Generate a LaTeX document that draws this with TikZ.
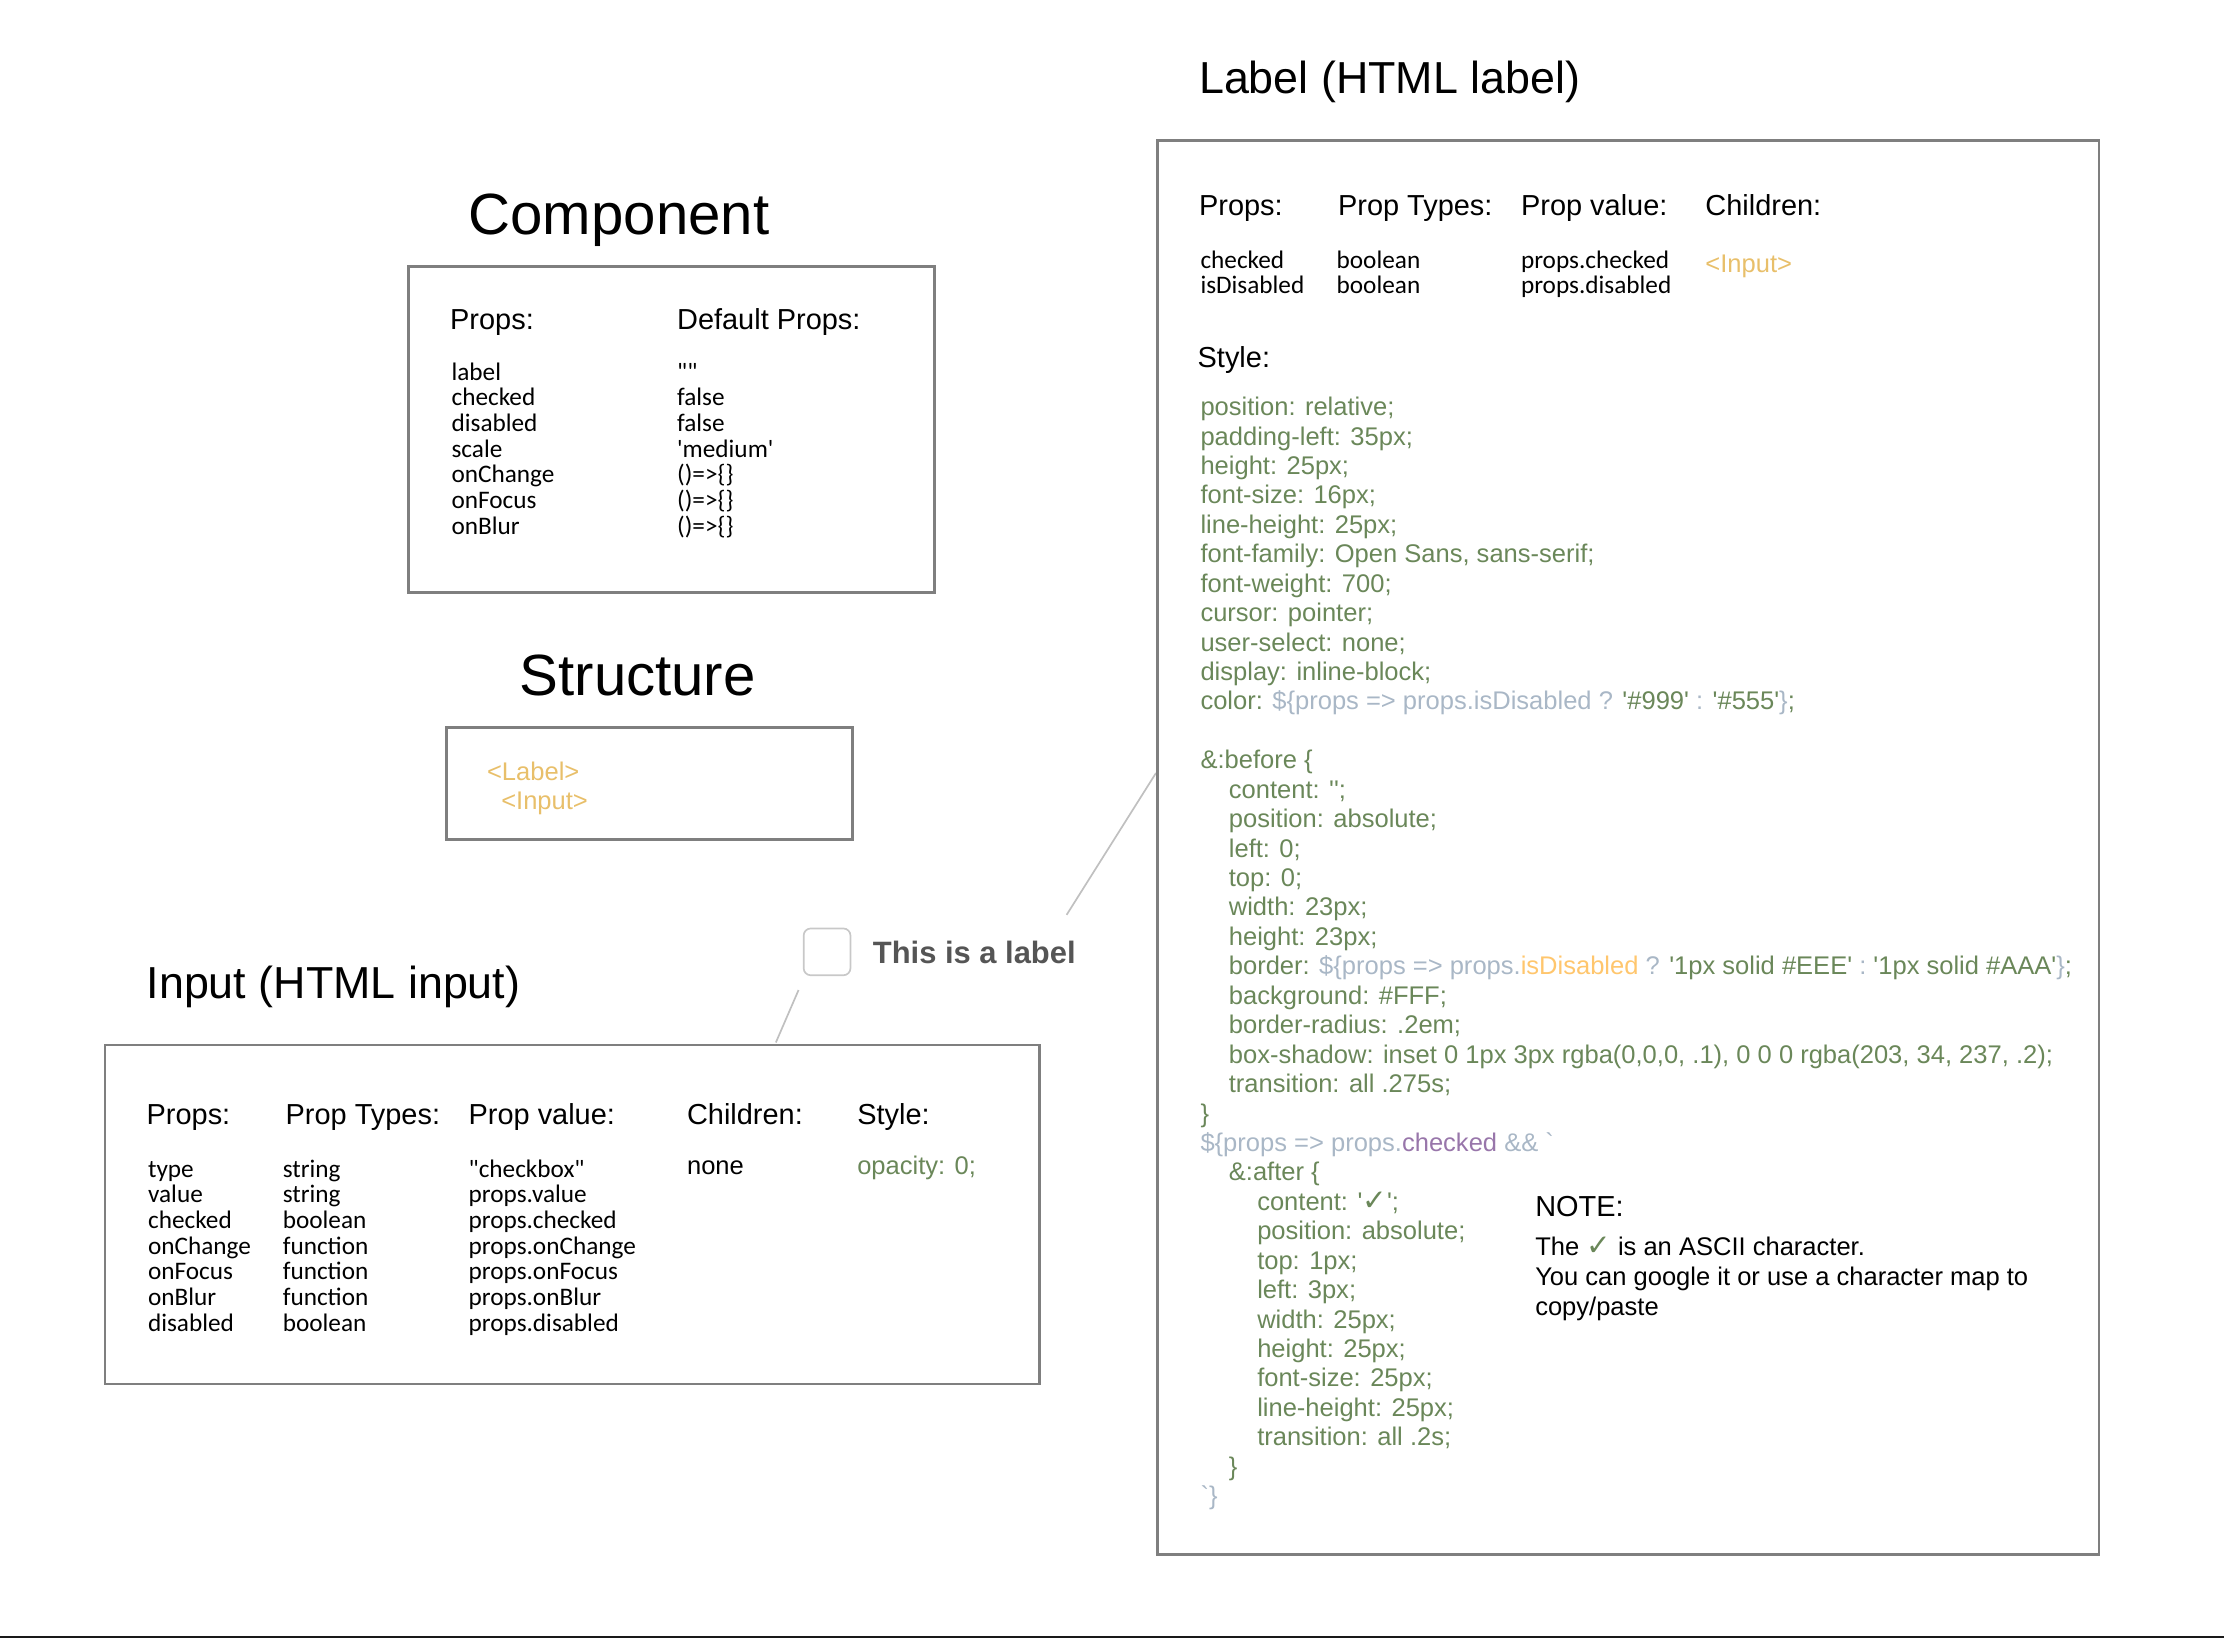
\documentclass[tikz,border=0pt]{standalone}
\usepackage{fontspec}
\setmainfont{Liberation Sans}[Ligatures=TeXOff]
\newfontfamily\calfont{Carlito}[Ligatures=TeXOff]
\newfontfamily\symfont{DejaVu Sans}
\usetikzlibrary{positioning}
\definecolor{boxgray}{HTML}{7F7F7F}
\definecolor{linkgray}{HTML}{C0C0C0}
\definecolor{checkgray}{HTML}{C8C8C8}
\definecolor{labelgray}{HTML}{555555}
\definecolor{codegreen}{HTML}{6A8759}
\definecolor{codegray}{HTML}{A9B7C6}
\definecolor{codeorange}{HTML}{FFC66D}
\definecolor{codepurple}{HTML}{9876AA}
\definecolor{tagorange}{HTML}{E8BF6A}
\newcommand{\cg}[1]{\textcolor{codegray}{#1}}
\newcommand{\co}[1]{\textcolor{codeorange}{#1}}
\newcommand{\cp}[1]{\textcolor{codepurple}{#1}}
\newcommand{\tick}{{\symfont\scalebox{1.15}{✓}}}
\newcommand{\ind}{\hspace*{10pt}}
% multi-line nodes are placed by the baseline of their last line
\tikzset{
    title/.style={anchor=base west, inner sep=0, font=\fontsize{20.5}{24}\selectfont},
    subtitle/.style={anchor=base west, inner sep=0, font=\fontsize{15.8}{19}\selectfont},
    head/.style={anchor=base west, inner sep=0, font=\fontsize{10.2}{12}\selectfont},
    list/.style={anchor=base west, inner sep=0, align=left, font=\calfont\fontsize{8.9}{9.05}\selectfont},
    code/.style={anchor=base west, inner sep=0, align=left, text=codegreen, font=\fontsize{9}{10.375}\selectfont},
    tag/.style={anchor=base west, inner sep=0, text=tagorange, font=\fontsize{9}{10.5}\selectfont},
    panel/.style={draw=boxgray, line width=0.9pt, anchor=north west, inner sep=0},
    link/.style={draw=linkgray, line width=0.6pt},
}
\begin{document}
\begin{tikzpicture}[x=0.5pt, y=-0.5pt]
  \useasboundingbox (0,0) rectangle (1568,1155);
  \fill[black!90] (0,1153.2) rectangle (1568,1155);

  % Component
  \node[title] (comptitle) at (330,165) {Component};
  \node[panel, minimum width=185.5pt, minimum height=115pt] (compbox) at (287,187) {};
  \node[head] (comphead1) at (317,232) {Props:};
  \node[head] (comphead2) at (477,232) {Default Props:};
  \node[list] (complist1) at (318,376.6) {label\\checked\\disabled\\scale\\onChange\\onFocus\\onBlur};
  \node[list] (complist2) at (477,376.6) {""\\false\\false\\'medium'\\()=>\{\}\\()=>\{\}\\()=>\{\}};

  % Structure
  \node[title] (structtitle) at (366,490) {Structure};
  \node[panel, minimum width=143pt, minimum height=39.5pt] (structbox) at (314,512) {};
  \node[tag] (structlabel) at (343,550) {<Label>};
  \node[tag] (structinput) at (353,571) {<Input>};

  % Input (HTML input)
  \node[subtitle] (inputtitle) at (103,704) {Input (HTML input)};
  \node[panel, minimum width=329.5pt, minimum height=119.5pt] (inputbox) at (73,736) {};
  \node[head] (inputhead1) at (103,793) {Props:};
  \node[head] (inputhead2) at (201,793) {Prop Types:};
  \node[head] (inputhead3) at (330,793) {Prop value:};
  \node[head] (inputhead4) at (484,793) {Children:};
  \node[head] (inputhead5) at (604,793) {Style:};
  \node[list] (inputlist1) at (104,938.6) {type\\value\\checked\\onChange\\onFocus\\onBlur\\disabled};
  \node[list] (inputlist2) at (199,938.6) {string\\string\\boolean\\function\\function\\function\\boolean};
  \node[list] (inputlist3) at (330,938.6) {"checkbox"\\props.value\\props.checked\\props.onChange\\props.onFocus\\props.onBlur\\props.disabled};
  \node[anchor=base west, inner sep=0, font=\fontsize{9}{10.5}\selectfont] (inputnone) at (484,828) {none};
  \node[code] (inputstyle) at (604,828) {opacity: 0;};

  % rendered checkbox
  \node[draw=checkgray, line width=0.6pt, rounded corners=2.5pt, minimum size=16.5pt, anchor=north west, inner sep=0] (checkbox) at (566,654) {};
  \node[anchor=base west, inner sep=0, text=labelgray, font=\bfseries\fontsize{10.9}{13}\selectfont] (checklabel) at (615,679) {This is a label};
  \coordinate (inputtip) at (547,735);
  \coordinate (checktip) at (563,698);
  \coordinate (labeltip) at (752,645);
  \coordinate (labelboxtip) at (815,545);
  \draw[link] (inputtip) -- (checktip);
  \draw[link] (labeltip) -- (labelboxtip);

  % Label (HTML label)
  \node[subtitle] (labeltitle) at (845,66) {Label (HTML label)};
  \node[panel, minimum width=332pt, minimum height=498.5pt] (labelbox) at (815,98) {};
  \node[head] (labelhead1) at (845,152) {Props:};
  \node[head] (labelhead2) at (943,152) {Prop Types:};
  \node[head] (labelhead3) at (1072,152) {Prop value:};
  \node[head] (labelhead4) at (1202,152) {Children:};
  \node[list] (labellist1) at (846,207.1) {checked\\isDisabled};
  \node[list] (labellist2) at (942,207.1) {boolean\\boolean};
  \node[list] (labellist3) at (1072,207.1) {props.checked\\props.disabled};
  \node[tag] (labelinput) at (1202,192) {<Input>};
  \node[head] (labelstylehead) at (844,259) {Style:};
  \node[code] (labelstyle) at (846,1060.8) {position: relative;\\
    padding-left: 35px;\\
    height: 25px;\\
    font-size: 16px;\\
    line-height: 25px;\\
    font-family: Open Sans, sans-serif;\\
    font-weight: 700;\\
    cursor: pointer;\\
    user-select: none;\\
    display: inline-block;\\
    color: \cg{\$\{props => props.isDisabled ?} '\#999' \cg{:} '\#555'\cg{\}};\\[10.375pt]
    \&:before \{\\
    \ind content: '';\\
    \ind position: absolute;\\
    \ind left: 0;\\
    \ind top: 0;\\
    \ind width: 23px;\\
    \ind height: 23px;\\
    \ind border: \cg{\$\{props => props.}\co{isDisabled} \cg{?} '1px solid \#EEE' \cg{:} '1px solid \#AAA'\cg{\}};\\
    \ind background: \#FFF;\\
    \ind border-radius: .2em;\\
    \ind box-shadow: inset 0 1px 3px rgba(0,0,0, .1), 0 0 0 rgba(203, 34, 237, .2);\\
    \ind transition: all .275s;\\
    \}\\
    \cg{\$\{props => props.}\cp{checked} \cg{\&\& `}\\
    \ind \&:after \{\\
    \ind\ind content: '\tick';\\
    \ind\ind position: absolute;\\
    \ind\ind top: 1px;\\
    \ind\ind left: 3px;\\
    \ind\ind width: 25px;\\
    \ind\ind height: 25px;\\
    \ind\ind font-size: 25px;\\
    \ind\ind line-height: 25px;\\
    \ind\ind transition: all .2s;\\
    \ind \}\\
    \cg{`\}}};

  % note
  \node[head] (notehead) at (1082,858) {NOTE:};
  \node[anchor=base west, inner sep=0, align=left, font=\fontsize{9}{10.5}\selectfont] (notetext) at (1082,927.5) {The \textcolor{codegreen}{\tick} is an ASCII character.\\You can google it or use a character map to\\copy/paste};
\end{tikzpicture}
\end{document}
